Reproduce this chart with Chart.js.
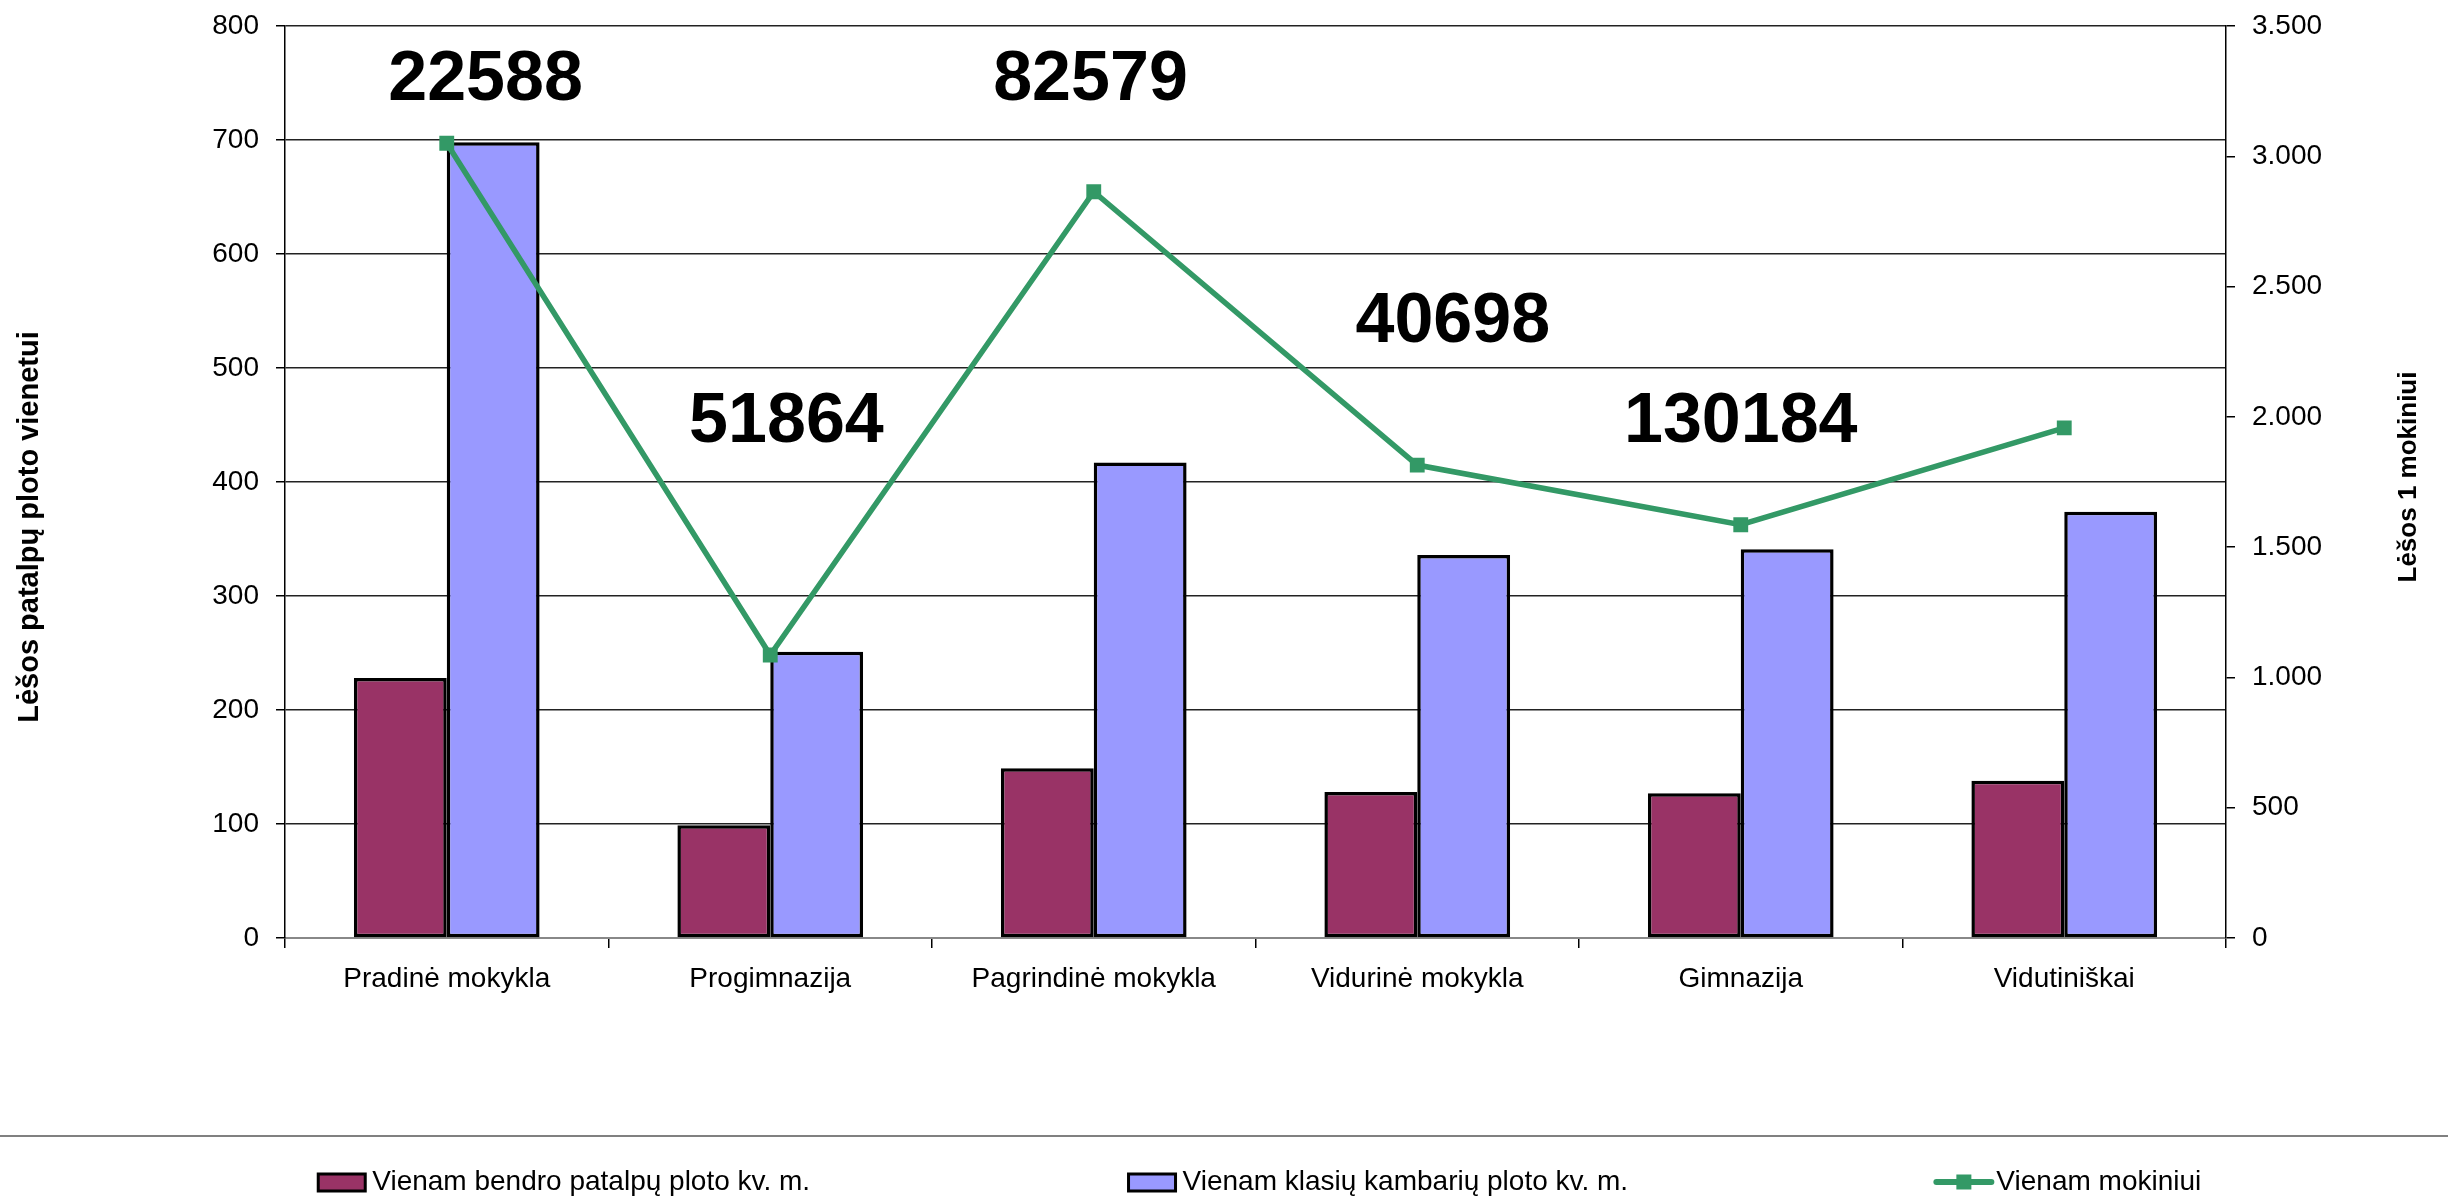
<!DOCTYPE html>
<html lang="lt">
<head>
<meta charset="utf-8">
<script src="https://cdn.jsdelivr.net/npm/chart.js@4.4.1/dist/chart.umd.min.js"></script>
<style>
html,body{margin:0;padding:0;background:#fff}
#wrap{width:2448px;height:1196px}
</style>
</head>
<body>
<div id="wrap"><canvas id="grafikas" width="2448" height="1196"></canvas></div>
<script>
// duomenys
const kategorijos=['Pradinė mokykla','Progimnazija','Pagrindinė mokykla','Vidurinė mokykla','Gimnazija','Vidutiniškai']
const bendroPlotas=[228,99,149,128,127,138]
const klasiuPlotas=[698,251,417,336,341,374]
const mokiniui=[3050,1086,2864,1815,1586,1958]
const mokiniuSkaicius=['22588','51864','82579','40698','130184']
const kairesRibos=[0,800,100]
const desinesRibos=[0,3500,500]

Chart.defaults.font.family='"Liberation Sans", Arial, sans-serif'
Chart.defaults.font.size=28
Chart.defaults.color='#000'

// kur dedami dideli skaiciai (kategorijos poslinkis, kaires asies lygis)
const uzrasuVietos=[[0.12,752],[0.05,452],[-0.01,752],[0.11,540],[0,452]]

const fmt=v=>String(v).replace(/\B(?=(\d{3})+(?!\d))/g,'.')

const papildomai={
    id:'papildomai',
    afterDatasetsDraw(chart){
        const {ctx,scales}=chart
        ctx.save()
        ctx.fillStyle='#000'
        ctx.textAlign='center'
        ctx.textBaseline='middle'
        ctx.font='bold 70px "Liberation Sans", Arial, sans-serif'
        mokiniuSkaicius.forEach((txt,i)=>{
            const [dx,lyg]=uzrasuVietos[i]
            ctx.fillText(txt,scales.x.getPixelForValue(i+dx),scales.y.getPixelForValue(lyg))
        })
        ctx.restore()
    },
    afterDraw(chart){
        const {ctx,chartArea,width}=chart
        ctx.save()
        // asiu pavadinimai
        ctx.font='bold 29px "Liberation Sans", Arial, sans-serif'
        ctx.fillStyle='#000'
        ctx.textAlign='center'
        ctx.textBaseline='middle'
        const mid=(chartArea.top+chartArea.bottom)/2
        ctx.save();ctx.translate(30,mid+45);ctx.rotate(-Math.PI/2)
        ctx.fillText('Lėšos patalpų ploto vienetui',0,0);ctx.restore()
        ctx.font='bold 26px "Liberation Sans", Arial, sans-serif'
        ctx.save();ctx.translate(2409,mid-5);ctx.rotate(-Math.PI/2)
        ctx.fillText('Lėšos 1 mokiniui',0,0);ctx.restore()

        // legenda
        ctx.strokeStyle='#808080'
        ctx.lineWidth=2
        ctx.beginPath();ctx.moveTo(0,1136);ctx.lineTo(width,1136);ctx.stroke()
        const yc=1182
        const xs=[0.13,0.461,0.791]
        ctx.font='28px "Liberation Sans", Arial, sans-serif'
        ctx.textAlign='left'
        chart.data.datasets.forEach((ds,i)=>{
            const x=width*xs[i]
            if(ds.type==='line'){
                ctx.strokeStyle=ds.borderColor
                ctx.lineWidth=6
                ctx.lineCap='round'
                ctx.beginPath();ctx.moveTo(x,yc);ctx.lineTo(x+55,yc);ctx.stroke()
                ctx.fillStyle=ds.borderColor
                ctx.fillRect(x+20,yc-7.5,15,15)
                ctx.fillStyle='#000'
                ctx.fillText(ds.label,x+60,yc)
            }else{
                ctx.fillStyle=ds.backgroundColor
                ctx.fillRect(x,yc-8,47,17)
                ctx.strokeStyle='#000'
                ctx.lineWidth=3
                ctx.strokeRect(x,yc-8,47,17)
                ctx.fillStyle='#000'
                ctx.fillText(ds.label,x+54,yc)
            }
        })
        ctx.restore()
    }
}

const data={
    labels:kategorijos,
    datasets:[
        {
            type:'bar',
            label:'Vienam bendro patalpų ploto kv. m.',
            data:bendroPlotas,
            yAxisID:'y',
            backgroundColor:'#993366',
            borderColor:'#000',
            borderWidth:3.5,
            borderSkipped:false,
            categoryPercentage:0.574,
            barPercentage:1,
            order:1
        },
        {
            type:'bar',
            label:'Vienam klasių kambarių ploto kv. m.',
            data:klasiuPlotas,
            yAxisID:'y',
            backgroundColor:'#9999FF',
            borderColor:'#000',
            borderWidth:3.5,
            borderSkipped:false,
            categoryPercentage:0.574,
            barPercentage:1,
            order:1
        },
        {
            type:'line',
            label:'Vienam mokiniui',
            data:mokiniui,
            yAxisID:'y1',
            borderColor:'#339966',
            backgroundColor:'#339966',
            borderWidth:5.5,
            pointStyle:'rect',
            pointRadius:10.5,
            pointBorderWidth:0,
            pointBackgroundColor:'#339966',
            tension:0,
            order:0
        }
    ]
}

const options={
    responsive:false,
    maintainAspectRatio:false,
    animation:false,
    devicePixelRatio:1,
    layout:{padding:{top:26,left:0,right:0,bottom:0}},
    plugins:{
        legend:{display:false},
        tooltip:{enabled:false}
    },
    scales:{
        x:{
            grid:{drawOnChartArea:false,color:'#000',tickLength:10,lineWidth:1.5},
            border:{color:'#888',width:2},
            ticks:{padding:14,color:'#000'},
            afterFit:s=>{s.height=258}
        },
        y:{
            position:'left',
            min:kairesRibos[0],max:kairesRibos[1],
            ticks:{stepSize:kairesRibos[2],padding:17,color:'#000'},
            grid:{color:'#222',lineWidth:1.5,tickLength:9,tickColor:'#000'},
            border:{color:'#000',width:1.5},
            afterFit:s=>{s.width=285;s.paddingTop=0;s.paddingBottom=0}
        },
        y1:{
            position:'right',
            min:desinesRibos[0],max:desinesRibos[1],
            ticks:{stepSize:desinesRibos[2],padding:17,color:'#000',callback:v=>fmt(v)},
            grid:{drawOnChartArea:false,tickLength:9,color:'#000',lineWidth:1.5},
            border:{color:'#000',width:1.5},
            afterFit:s=>{s.width=222;s.paddingTop=0;s.paddingBottom=0}
        }
    }
}

new Chart('grafikas',{type:'bar',data,options,plugins:[papildomai]})
</script>
</body>
</html>
